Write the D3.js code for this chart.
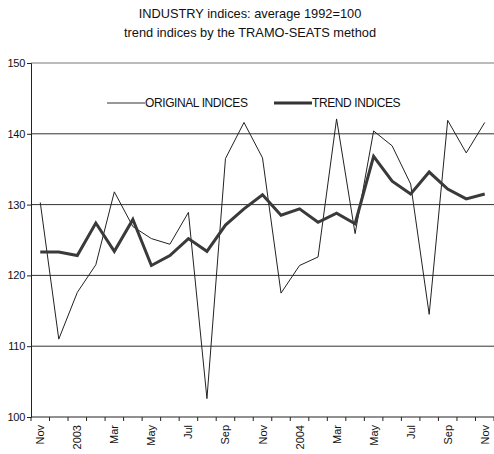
<html>
<head>
<script src="https://d3js.org/d3.v7.min.js"></script>
<style>
  body { margin: 0; background: #fff; }
  text { font-family: "Liberation Sans", Arial, sans-serif; fill: #111; }
</style>
</head>
<body>
<svg width="494" height="454"></svg>
<script>
// months Nov 2002 .. Nov 2004
var months = ["Nov","Dec","2003","Feb","Mar","Apr","May","Jun","Jul","Aug","Sep","Oct",
              "Nov","Dec","2004","Feb","Mar","Apr","May","Jun","Jul","Aug","Sep","Oct","Nov"];
var original = [130.3, 111.0, 117.6, 121.5, 131.8, 126.9, 125.2, 124.4, 128.9, 102.6, 136.5, 141.6,
                136.6, 117.5, 121.4, 122.6, 142.1, 125.9, 140.4, 138.3, 132.9, 114.5, 141.9, 137.3, 141.6];
var trend = [123.3, 123.3, 122.8, 127.4, 123.4, 127.9, 121.4, 122.8, 125.2, 123.4, 127.1, 129.4,
             131.4, 128.5, 129.4, 127.5, 128.8, 127.3, 136.8, 133.3, 131.5, 134.6, 132.2, 130.8, 131.5];
var yTicks = [100, 110, 120, 130, 140, 150];

var svg = d3.select("svg");
var mLeft = 31, mRight = 494, mTop = 63, mBottom = 417;

var x = d3.scaleBand().domain(d3.range(months.length)).range([mLeft, mRight]);
var y = d3.scaleLinear().domain([100, 150]).range([mBottom, mTop]);

// title
svg.append("text").attr("x", 250).attr("y", 18).attr("text-anchor", "middle")
  .attr("font-size", 12.8).text("INDUSTRY indices: average 1992=100");
svg.append("text").attr("x", 250).attr("y", 37).attr("text-anchor", "middle")
  .attr("font-size", 12.8).text("trend indices by the TRAMO-SEATS method");

// gridlines
svg.selectAll("line.grid").data(yTicks.filter(d => d > 100)).enter()
  .append("line").attr("class", "grid")
  .attr("x1", mLeft).attr("x2", mRight)
  .attr("y1", d => y(d)).attr("y2", d => y(d))
  .attr("stroke", d => d == 150 ? "#bbb" : "#333")
  .attr("stroke-width", d => d == 150 ? 2 : 1);

// y axis
var yAxis = svg.append("g").attr("transform", "translate(" + mLeft + ",0)")
  .call(d3.axisLeft(y).tickValues(yTicks).tickSize(4).tickPadding(2));
yAxis.selectAll("text").attr("font-size", 11).attr("fill", "#111")
  .attr("letter-spacing", -0.3)
  .style("font-family", "Liberation Sans, Arial, sans-serif");
yAxis.selectAll("line, path").attr("stroke", "#222");

// x axis with ticks on band edges
var xg = svg.append("g").attr("transform", "translate(0," + mBottom + ")");
xg.append("line").attr("x1", mLeft).attr("x2", mRight).attr("stroke", "#222");
xg.selectAll("line.tick").data(d3.range(months.length + 1)).enter()
  .append("line").attr("class", "tick")
  .attr("x1", i => mLeft + i * x.step()).attr("x2", i => mLeft + i * x.step())
  .attr("y1", 0).attr("y2", 4).attr("stroke", "#222");
xg.selectAll("text").data(months.map((m, i) => ({m: m, i: i})).filter(d => d.i % 2 == 0))
  .enter().append("text")
  .attr("transform", d => "translate(" + (x(d.i) + x.bandwidth() / 2 + 4) + ",8) rotate(-90)")
  .attr("text-anchor", "end").attr("font-size", 11)
  .text(d => d.m);

var line = d3.line().x((d, i) => x(i) + x.bandwidth() / 2).y(d => y(d));

svg.append("path").datum(original).attr("d", line)
  .attr("fill", "none").attr("stroke", "#222").attr("stroke-width", 1);
svg.append("path").datum(trend).attr("d", line)
  .attr("fill", "none").attr("stroke", "#3a3a3a").attr("stroke-width", 3)
  .attr("stroke-linejoin", "miter");

// legend
var legend = [{name: "ORIGINAL INDICES", w: 1, x: 107}, {name: "TREND INDICES", w: 3, x: 274}];
var lg = svg.selectAll("g.legend").data(legend).enter().append("g")
  .attr("transform", d => "translate(" + d.x + ",103)");
lg.append("line").attr("x1", 0).attr("x2", 38).attr("y1", 0).attr("y2", 0)
  .attr("stroke", "#333").attr("stroke-width", d => d.w);
lg.append("text").attr("x", 38).attr("y", 4).attr("font-size", 12)
  .attr("letter-spacing", -0.4).text(d => d.name);
</script>
</body>
</html>
